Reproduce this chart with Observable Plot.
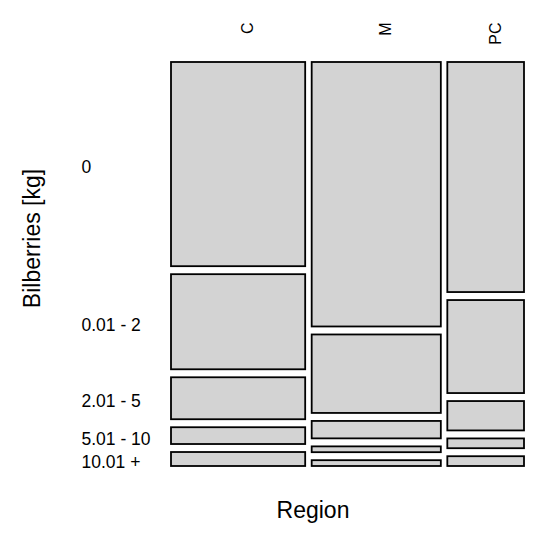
<!DOCTYPE html>
<html>
<head>
<meta charset="utf-8">
<script src="https://cdn.jsdelivr.net/npm/d3@7"></script>
<script src="https://cdn.jsdelivr.net/npm/@observablehq/plot@0.6"></script>
<style>
  html, body { margin: 0; padding: 0; background: #fff; }
  svg { display: block; }
</style>
</head>
<body>
<div id="chart"></div>
<script>
const regions = ["C", "M", "PC"];
const bilberries = ["0", "0.01 - 2", "2.01 - 5", "5.01 - 10", "10.01 +"];
const countsC = [73, 34, 15, 6, 5];
const countsM = [91, 27, 6, 2, 2];
const countsPC = [47, 19, 6, 2, 2];
const xTitle = "Region";
const yTitle = "Bilberries [kg]";

const counts = [countsC, countsM, countsPC];
const gx = 0.0184; // gap between columns (fraction of width)
const gy = 0.0198; // gap between rows (fraction of height)

const N = d3.sum(counts, c => d3.sum(c));
const cells = [];
const colLabels = [];
let xc = 0;
regions.forEach((r, i) => {
  const tot = d3.sum(counts[i]);
  const w = tot / N * (1 - gx * (regions.length - 1));
  let yc = 0;
  bilberries.forEach((b, j) => {
    const h = counts[i][j] / tot * (1 - gy * (bilberries.length - 1));
    cells.push({region: r, bil: b, x1: xc, x2: xc + w, y1: yc, y2: yc + h, col: i});
    yc += h + gy;
  });
  colLabels.push({region: r, x: xc + w / 2});
  xc += w + gx;
});
const rowLabels = cells.filter(d => d.col === 0).map(d => ({bil: d.bil, y: (d.y1 + d.y2) / 2}));

const font = "Liberation Sans, Arial, Helvetica, sans-serif";

const chart = Plot.plot({
  width: 550,
  height: 541,
  marginLeft: 171,
  marginRight: 26,
  marginTop: 62,
  marginBottom: 75,
  style: {fontFamily: font, background: "#fff"},
  x: {domain: [0, 1], axis: null},
  y: {domain: [0, 1], reverse: true, axis: null},
  marks: [
    Plot.rect(cells, {x1: "x1", x2: "x2", y1: "y1", y2: "y2", fill: "#d3d3d3", stroke: "#000", strokeWidth: 1.8}),
    Plot.text(colLabels, {x: "x", text: "region", frameAnchor: "top", dy: -40, dx: 3, rotate: -90, textAnchor: "end", fontSize: 16, fill: "#000"}),
    Plot.text(rowLabels, {y: "y", text: "bil", frameAnchor: "left", dx: -90, dy: 3, textAnchor: "start", fontSize: 17.5, fill: "#000"}),
    Plot.text([xTitle], {frameAnchor: "bottom", textAnchor: "middle", dx: -35, dy: 51, fontSize: 23, fill: "#000"}),
    Plot.text([yTitle], {frameAnchor: "left", textAnchor: "middle", dx: -139, dy: -26, rotate: -90, fontSize: 23, fill: "#000"})
  ]
});
document.getElementById("chart").append(chart);
</script>
</body>
</html>
